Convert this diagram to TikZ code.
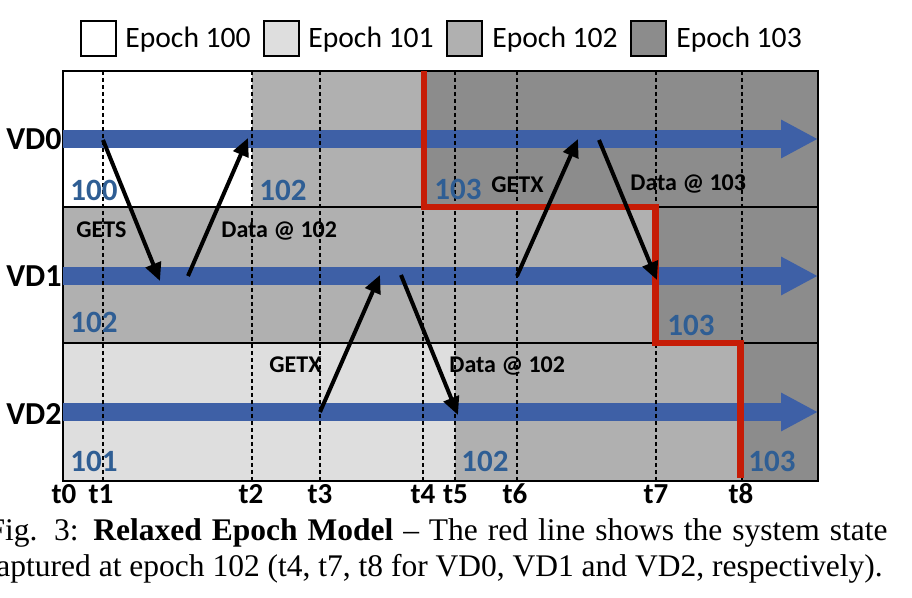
\documentclass[tikz,border=0pt]{standalone}
\usepackage{fontspec}
\setmainfont{Carlito}
\newfontfamily\capfont{Liberation Serif}
\usetikzlibrary{arrows.meta}

\definecolor{epochB}{RGB}{222,222,222}
\definecolor{epochC}{RGB}{176,176,176}
\definecolor{epochD}{RGB}{140,140,140}
\definecolor{vdblue}{RGB}{62,96,166}
\definecolor{numblue}{RGB}{47,94,148}
\definecolor{cutred}{RGB}{198,28,6}

\tikzset{
  legbox/.style={draw=black, line width=1pt, minimum width=17.5pt, minimum height=17.5pt, inner sep=0pt},
  legtext/.style={anchor=base west, inner sep=0pt, font=\fontsize{14.8}{17}\selectfont},
  vdlabel/.style={anchor=base east, inner sep=0pt, font=\fontsize{16}{18}\selectfont\bfseries},
  ticklabel/.style={anchor=base, inner sep=0pt, font=\fontsize{14.5}{17}\selectfont\bfseries},
  epochnum/.style={anchor=base west, inner sep=0pt, text=numblue, font=\fontsize{15.5}{18}\selectfont\bfseries},
  msglabel/.style={anchor=base west, inner sep=0pt, font=\fontsize{12}{14}\selectfont\bfseries},
  timeline/.style={vdblue, line width=9pt, -{Triangle[length=18.5pt,width=18pt]}},
  msg/.style={black, line width=2pt, -{Triangle[length=9pt,width=8pt]}},
  tickline/.style={black, line width=0.7pt, dash pattern=on 2pt off 1.5pt},
  caption/.style={anchor=base east, inner sep=0pt, font=\capfont\fontsize{15.75}{18}\selectfont},
}

\begin{document}
\begin{tikzpicture}[x=0.5pt, y=-0.5pt]
  \useasboundingbox (0,0) rectangle (912,598);

  % Legend
  \node[legbox, fill=white] (leg0) at (98.5,38.5) {};
  \node[legtext] (legt0) at (125,48) {Epoch 100};
  \node[legbox, fill=epochB] (leg1) at (281.5,38.5) {};
  \node[legtext] (legt1) at (308,48) {Epoch 101};
  \node[legbox, fill=epochC] (leg2) at (464.5,38.5) {};
  \node[legtext] (legt2) at (492,48) {Epoch 102};
  \node[legbox, fill=epochD] (leg3) at (648,38.5) {};
  \node[legtext] (legt3) at (676,48) {Epoch 103};

  % Epoch regions
  \fill[white] (63,71) rectangle (252,207);
  \fill[epochC] (252,71) rectangle (423,207);
  \fill[epochD] (423,71) rectangle (818,207);
  \fill[epochC] (63,207) rectangle (656,343);
  \fill[epochD] (656,207) rectangle (818,343);
  \fill[epochB] (63,343) rectangle (455,481);
  \fill[epochC] (455,343) rectangle (742,481);
  \fill[epochD] (742,343) rectangle (818,481);

  % Frame
  \draw[line width=0.8pt] (63,71) rectangle (818,481);
  \draw[line width=0.8pt] (63,207) -- (818,207);
  \draw[line width=0.8pt] (63,343) -- (818,343);

  % Timelines
  \draw[timeline] (63,139) -- (818,139);
  \draw[timeline] (63,276) -- (818,276);
  \draw[timeline] (63,412) -- (818,412);

  % Time marks
  \foreach \x/\n in {103/1, 252/2, 320/3, 423/4, 455/5, 517/6, 656/7, 742/8}
    \draw[tickline] (\x,71) -- (\x,481);
  \node[ticklabel] (t0) at (64,504) {t0};
  \node[ticklabel] (t1) at (101,504) {t1};
  \node[ticklabel] (t2) at (251,504) {t2};
  \node[ticklabel] (t3) at (320,504) {t3};
  \node[ticklabel] (t4) at (423,504) {t4};
  \node[ticklabel] (t5) at (455.5,504) {t5};
  \node[ticklabel] (t6) at (515,504) {t6};
  \node[ticklabel] (t7) at (656,504) {t7};
  \node[ticklabel] (t8) at (741,504) {t8};

  % Red cut line
  \draw[cutred, line width=3.4pt] (424,71) -- (424,207) -- (655.5,207) -- (655.5,343) -- (740.5,343) -- (740.5,478);

  % VD labels
  \node[vdlabel] (vd0) at (62,150) {VD0};
  \node[vdlabel] (vd1) at (62,287) {VD1};
  \node[vdlabel] (vd2) at (62,425) {VD2};

  % Epoch numbers
  \node[epochnum] (n0a) at (70,201) {100};
  \node[epochnum] (n0b) at (259,201) {102};
  \node[epochnum] (n0c) at (434,200) {103};
  \node[epochnum] (n1a) at (70,333) {102};
  \node[epochnum] (n1b) at (667,336) {103};
  \node[epochnum] (n2a) at (70,472) {101};
  \node[epochnum] (n2b) at (461,472) {102};
  \node[epochnum] (n2c) at (748,472) {103};

  % Message end points
  \coordinate (getsA) at (103,140);
  \coordinate (getsB) at (160,281);
  \coordinate (dataA) at (188,276);
  \coordinate (dataB) at (248,138);
  \coordinate (getxA) at (320,412);
  \coordinate (getxB) at (380,275);
  \coordinate (datbA) at (401,275);
  \coordinate (datbB) at (458,415);
  \coordinate (getyA) at (517,276);
  \coordinate (getyB) at (578,139);
  \coordinate (datcA) at (599,140);
  \coordinate (datcB) at (657,280);

  % Messages
  \draw[msg] (getsA) -- (getsB);
  \draw[msg] (dataA) -- (dataB);
  \draw[msg] (getxA) -- (getxB);
  \draw[msg] (datbA) -- (datbB);
  \draw[msg] (getyA) -- (getyB);
  \draw[msg] (datcA) -- (datcB);

  % Message labels
  \node[msglabel] (lgets) at (76,238) {GETS};
  \node[msglabel] (ldata) at (221,238) {Data @ 102};
  \node[msglabel] (lgetx) at (269,373) {GETX};
  \node[msglabel] (ldatb) at (449,373) {Data @ 102};
  \node[msglabel] (lgety) at (491,193) {GETX};
  \node[msglabel] (ldatc) at (630,191) {Data @ 103};

  % Caption
  \node[caption] (cap1) at (888,541) {\makebox[450pt][s]{Fig. 3: \textbf{Relaxed Epoch Model} – The red line shows the system state}};
  \node[caption] (cap2) at (883,577) {captured at epoch 102 (t4, t7, t8 for VD0, VD1 and VD2, respectively).};
\end{tikzpicture}
\end{document}
